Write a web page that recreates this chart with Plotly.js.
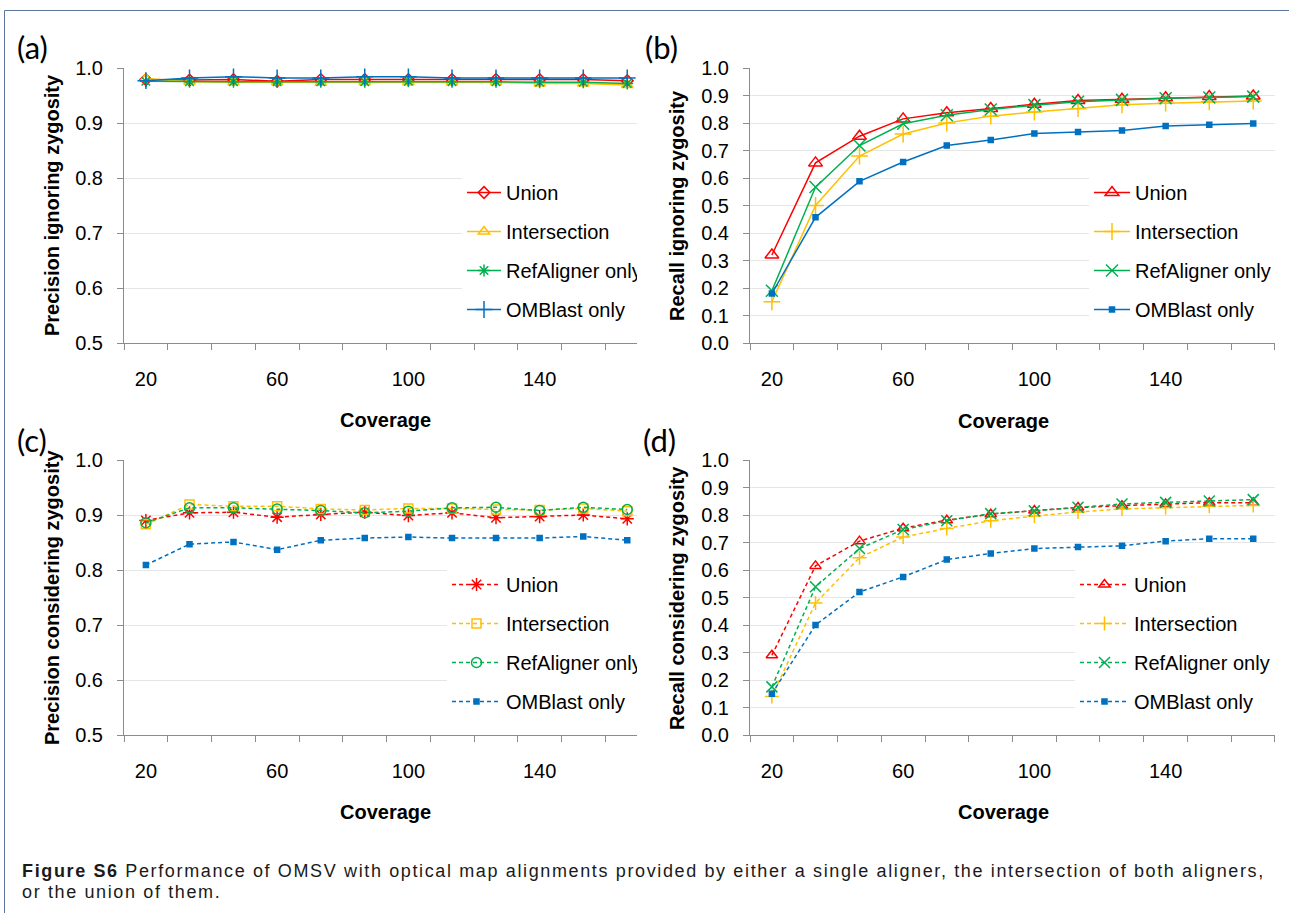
<!DOCTYPE html>
<html>
<head>
<meta charset="utf-8">
<script src="https://cdn.plot.ly/plotly-3.0.1.min.js"></script>
<style>
  html, body { margin: 0; padding: 0; background: #ffffff; }
  #wrap { position: relative; width: 1289px; height: 913px; overflow: hidden; }
  #chart { position: absolute; left: 0; top: 0; width: 1289px; height: 913px; }
  .clip { position: absolute; background: #ffffff; }
  #caption { position: absolute; left: 22px; top: 861px; width: 1262px;
             font-family: 'Liberation Sans', Arial, sans-serif; font-size: 18px; line-height: 21px;
             color: #1a1a1a; white-space: nowrap; }
  #caption div { display: inline-block; }
</style>
</head>
<body>
<div id="wrap">
  <div id="chart"></div>
  <div class="clip" style="left:637px; top:254px; width:26px; height:33px;"></div>
  <div class="clip" style="left:637px; top:647px; width:26px; height:33px;"></div>
  <div id="caption"><div id="cap1"><b>Figure S6</b> Performance of OMSV with optical map alignments provided by either a single aligner, the intersection of both aligners,</div><br><div id="cap2">or the union of them.</div></div>
</div>
<script>
// ---------------- data ----------------
const coverage = [20, 33.3, 46.7, 60, 73.3, 86.7, 100, 113.3, 126.7, 140, 153.3, 166.7];
const coverageTicks = [20, 60, 100, 140];
const coverageTickText = ['20', '60', '100', '140'];
const seriesNames = ['Union', 'Intersection', 'RefAligner only', 'OMBlast only'];

// (a) Precision ignoring zygosity
const precIgnUnion = [0.979, 0.978, 0.979, 0.976, 0.979, 0.979, 0.979, 0.979, 0.979, 0.979, 0.979, 0.977];
const precIgnInter = [0.981, 0.975, 0.974, 0.974, 0.973, 0.974, 0.974, 0.974, 0.974, 0.972, 0.972, 0.969];
const precIgnRef   = [0.976, 0.975, 0.975, 0.975, 0.975, 0.975, 0.976, 0.975, 0.975, 0.974, 0.974, 0.972];
const precIgnOmb   = [0.977, 0.982, 0.984, 0.982, 0.982, 0.984, 0.984, 0.982, 0.982, 0.982, 0.982, 0.982];

// (b) Recall ignoring zygosity
const recIgnUnion = [0.32, 0.655, 0.752, 0.815, 0.837, 0.853, 0.868, 0.882, 0.886, 0.892, 0.896, 0.898];
const recIgnInter = [0.15, 0.50, 0.68, 0.76, 0.80, 0.825, 0.84, 0.852, 0.866, 0.872, 0.877, 0.88];
const recIgnRef   = [0.19, 0.567, 0.718, 0.797, 0.828, 0.849, 0.865, 0.877, 0.884, 0.89, 0.893, 0.896];
const recIgnOmb   = [0.18, 0.457, 0.588, 0.658, 0.718, 0.738, 0.762, 0.767, 0.773, 0.789, 0.794, 0.798];

// (c) Precision considering zygosity
const precConUnion = [0.89, 0.904, 0.905, 0.896, 0.901, 0.905, 0.899, 0.904, 0.895, 0.897, 0.9, 0.893];
const precConInter = [0.883, 0.919, 0.916, 0.916, 0.911, 0.909, 0.912, 0.912, 0.91, 0.909, 0.912, 0.907];
const precConRef   = [0.886, 0.913, 0.913, 0.911, 0.908, 0.904, 0.907, 0.913, 0.914, 0.908, 0.914, 0.91];
const precConOmb   = [0.809, 0.847, 0.851, 0.837, 0.854, 0.858, 0.86, 0.858, 0.858, 0.858, 0.861, 0.854];

// (d) Recall considering zygosity
const recConUnion = [0.29, 0.615, 0.705, 0.752, 0.781, 0.803, 0.816, 0.827, 0.834, 0.84, 0.845, 0.845];
const recConInter = [0.14, 0.48, 0.645, 0.72, 0.751, 0.779, 0.796, 0.811, 0.822, 0.827, 0.832, 0.835];
const recConRef   = [0.175, 0.539, 0.678, 0.747, 0.779, 0.805, 0.815, 0.828, 0.84, 0.846, 0.851, 0.856];
const recConOmb   = [0.15, 0.40, 0.52, 0.575, 0.638, 0.66, 0.678, 0.684, 0.688, 0.705, 0.714, 0.714];

// ---------------- styling ----------------
const W = 1289, H = 913;
const px = x => x / W;
const py = y => 1 - y / H;
const colors = ['#ff0000', '#ffc000', '#00b050', '#0070c0'];
const FONT = "'Liberation Sans', Arial, sans-serif";

const panels = [
  { xa: 'x',  ya: 'y',  legend: 'legend',  dash: 'solid', values: [precIgnUnion, precIgnInter, precIgnRef, precIgnOmb],
    symbols: ['diamond-open', 'triangle-up-open', 'asterisk-open', 'cross-thin-open'], sizes: [9, 10, 10, 12] },
  { xa: 'x2', ya: 'y2', legend: 'legend2', dash: 'solid', values: [recIgnUnion, recIgnInter, recIgnRef, recIgnOmb],
    symbols: ['triangle-up-open', 'cross-thin-open', 'x-thin-open', 'square'], sizes: [12, 12, 12, 5] },
  { xa: 'x3', ya: 'y3', legend: 'legend3', dash: '4px,3px', values: [precConUnion, precConInter, precConRef, precConOmb],
    symbols: ['asterisk-open', 'square-open', 'circle-open', 'square'], sizes: [11, 9, 10, 5] },
  { xa: 'x4', ya: 'y4', legend: 'legend4', dash: '4px,3px', values: [recConUnion, recConInter, recConRef, recConOmb],
    symbols: ['triangle-up-open', 'cross-thin-open', 'x-thin-open', 'square'], sizes: [10, 10, 11, 5] }
];

const traces = [];
panels.forEach((p, pi) => {
  p.values.forEach((vals, si) => {
    traces.push({
      type: 'scatter', mode: 'lines+markers',
      x: coverage, y: vals, name: seriesNames[si],
      xaxis: p.xa, yaxis: p.ya, legend: p.legend,
      legendgroup: 'g' + pi + '_' + si,
      line: { color: colors[si], width: 1.5, dash: p.dash },
      marker: { symbol: p.symbols[si], size: p.sizes[si], color: colors[si],
                line: { color: colors[si], width: 1.5 } },
      hoverinfo: 'x+y+name'
    });
  });
});

const leftDom = [px(124), px(637)];
const rightDom = [px(750), px(1275)];
const topDom = [py(343), py(68)];
const botDom = [py(735), py(460)];

function xAxis(dom, anchor, rmax) {
  return {
    domain: dom, anchor: anchor, range: [13.333, rmax],
    tickmode: 'array', tickvals: coverageTicks, ticktext: coverageTickText,
    ticks: '', showgrid: false, zeroline: false,
    showline: true, linecolor: '#8c8c8c', linewidth: 1,
    tickfont: { family: FONT, size: 20, color: '#000' },
    ticklabelstandoff: 18,
    minor: { tickmode: 'linear', tick0: 13.333, dtick: 13.333, ticks: 'outside', ticklen: 6,
             tickcolor: '#8c8c8c', tickwidth: 1, showgrid: false },
    fixedrange: true
  };
}
function yAxis(dom, anchor, r) {
  return {
    domain: dom, anchor: anchor, range: r, dtick: 0.1, tick0: 0, tickformat: '.1f',
    ticks: 'outside', ticklen: 6, tickcolor: '#8c8c8c', tickwidth: 1,
    showgrid: true, gridcolor: '#e6e6e6', gridwidth: 1, zeroline: false,
    showline: true, linecolor: '#8c8c8c', linewidth: 1,
    tickfont: { family: FONT, size: 20, color: '#000' },
    ticklabelstandoff: 10,
    fixedrange: true
  };
}
function legendAt(x, y, iw) {
  return {
    x: px(x), y: py(y), xanchor: 'left', yanchor: 'top',
    bgcolor: '#ffffff', borderwidth: 0,
    font: { family: FONT, size: 20, color: '#000' },
    itemwidth: iw, tracegroupgap: 10, traceorder: 'grouped'
  };
}

const annFont = { family: "Lato, 'Open Sans', sans-serif", size: 31, color: '#000' };
const titleFont = { family: FONT, size: 20, color: '#000' };
function ann(text, x, y, opts) {
  return Object.assign({ text: text, x: px(x), y: py(y), xref: 'paper', yref: 'paper',
    showarrow: false, xanchor: 'center', yanchor: 'middle' }, opts);
}

const annotations = [
  ann('(a)', 32, 47, { font: annFont }),
  ann('(b)', 661, 47, { font: annFont }),
  ann('(c)', 32, 440, { font: annFont }),
  ann('(d)', 660, 440, { font: annFont }),
  ann('<b>Precision ignoring zygosity</b>', 52, 205, { font: titleFont, textangle: -90 }),
  ann('<b>Recall ignoring zygosity</b>', 677, 206, { font: titleFont, textangle: -90 }),
  ann('<b>Precision considering zygosity</b>', 52, 598, { font: titleFont, textangle: -90 }),
  ann('<b>Recall considering zygosity</b>', 677, 598, { font: titleFont, textangle: -90 }),
  ann('<b>Coverage</b>', 385, 420, { font: titleFont }),
  ann('<b>Coverage</b>', 1003, 421, { font: titleFont }),
  ann('<b>Coverage</b>', 385, 812, { font: titleFont }),
  ann('<b>Coverage</b>', 1003, 812, { font: titleFont })
];

const shapes = [
  { type: 'line', xref: 'paper', yref: 'paper', x0: px(4.5), x1: px(1289), y0: py(10.5), y1: py(10.5),
    line: { color: '#5a7699', width: 1 } },
  { type: 'line', xref: 'paper', yref: 'paper', x0: px(4.5), x1: px(4.5), y0: py(10.5), y1: py(913),
    line: { color: '#5a7699', width: 1 } }
];

const layout = {
  width: W, height: H,
  margin: { l: 0, r: 0, t: 0, b: 0 },
  paper_bgcolor: '#ffffff', plot_bgcolor: '#ffffff',
  showlegend: true,
  xaxis: xAxis(leftDom, 'y', 169.67),
  xaxis2: xAxis(rightDom, 'y2', 173.333),
  xaxis3: xAxis(leftDom, 'y3', 169.67),
  xaxis4: xAxis(rightDom, 'y4', 173.333),
  yaxis: yAxis(topDom, 'x', [0.5, 1.0]),
  yaxis2: yAxis(topDom, 'x2', [0, 1.0]),
  yaxis3: yAxis(botDom, 'x3', [0.5, 1.0]),
  yaxis4: yAxis(botDom, 'x4', [0, 1.0]),
  legend: legendAt(462, 173, 34),
  legend2: legendAt(1089, 173, 36),
  legend3: legendAt(447, 565, 49),
  legend4: legendAt(1075, 565, 49),
  annotations: annotations,
  shapes: shapes
};

Plotly.newPlot('chart', traces, layout, { displayModeBar: false, staticPlot: true });

// fit caption line 1 to the reference's width with letter spacing
(function () {
  const cap1 = document.getElementById('cap1');
  const cap2 = document.getElementById('cap2');
  const target = 1243;
  const w = cap1.getBoundingClientRect().width;
  const n = cap1.textContent.length;
  const ls = Math.max(-0.6, (target - w) / n);
  cap1.style.letterSpacing = ls.toFixed(2) + 'px';
  cap2.style.letterSpacing = ls.toFixed(2) + 'px';
})();
</script>
</body>
</html>
